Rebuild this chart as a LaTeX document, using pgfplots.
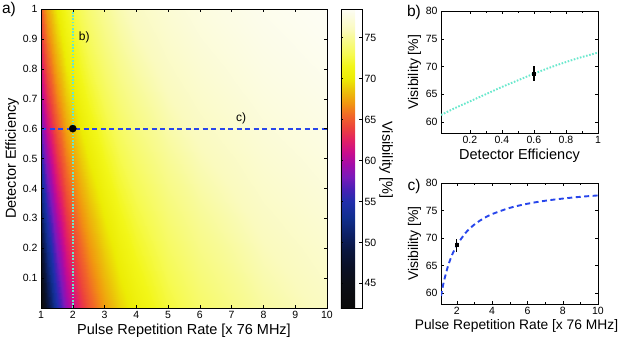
\documentclass[border=0pt]{standalone}
\usepackage{fontspec}
\setmainfont{Liberation Sans}
\usepackage{pgfplots}
\usepackage{pgfplotstable}
\pgfplotsset{compat=1.18}

\pgfplotstableread{
r e v
1 0 42.0
1.1 0 45.45
1.2 0 48.33
1.3 0 50.77
1.4 0 52.86
1.5 0 54.67
1.65 0 56.97
1.8 0 58.89
2 0 61.0
2.25 0 63.11
2.5 0 64.8
3 0 67.33
3.5 0 69.14
4 0 70.5
5 0 72.4
6 0 73.67
8 0 75.25
10 0 76.2
1 0.1 44.8
1.1 0.1 48.0
1.2 0.1 50.67
1.3 0.1 52.92
1.4 0.1 54.86
1.5 0.1 56.53
1.65 0.1 58.67
1.8 0.1 60.44
2 0.1 62.4
2.25 0.1 64.36
2.5 0.1 65.92
3 0.1 68.27
3.5 0.1 69.94
4 0.1 71.2
5 0.1 72.96
6 0.1 74.13
8 0.1 75.6
10 0.1 76.48
1 0.2 47.4
1.1 0.2 50.36
1.2 0.2 52.83
1.3 0.2 54.92
1.4 0.2 56.71
1.5 0.2 58.27
1.65 0.2 60.24
1.8 0.2 61.89
2 0.2 63.7
2.25 0.2 65.51
2.5 0.2 66.96
3 0.2 69.13
3.5 0.2 70.69
4 0.2 71.85
5 0.2 73.48
6 0.2 74.57
8 0.2 75.92
10 0.2 76.74
1 0.3 50.0
1.1 0.3 52.73
1.2 0.3 55.0
1.3 0.3 56.92
1.4 0.3 58.57
1.5 0.3 60.0
1.65 0.3 61.82
1.8 0.3 63.33
2 0.3 65.0
2.25 0.3 66.67
2.5 0.3 68.0
3 0.3 70.0
3.5 0.3 71.43
4 0.3 72.5
5 0.3 74.0
6 0.3 75.0
8 0.3 76.25
10 0.3 77.0
1 0.4 52.6
1.1 0.4 55.09
1.2 0.4 57.17
1.3 0.4 58.92
1.4 0.4 60.43
1.5 0.4 61.73
1.65 0.4 63.39
1.8 0.4 64.78
2 0.4 66.3
2.25 0.4 67.82
2.5 0.4 69.04
3 0.4 70.87
3.5 0.4 72.17
4 0.4 73.15
5 0.4 74.52
6 0.4 75.43
8 0.4 76.57
10 0.4 77.26
1 0.5 55.0
1.1 0.5 57.27
1.2 0.5 59.17
1.3 0.5 60.77
1.4 0.5 62.14
1.5 0.5 63.33
1.65 0.5 64.85
1.8 0.5 66.11
2 0.5 67.5
2.25 0.5 68.89
2.5 0.5 70.0
3 0.5 71.67
3.5 0.5 72.86
4 0.5 73.75
5 0.5 75.0
6 0.5 75.83
8 0.5 76.87
10 0.5 77.5
1 0.6 57.4
1.1 0.6 59.45
1.2 0.6 61.17
1.3 0.6 62.62
1.4 0.6 63.86
1.5 0.6 64.93
1.65 0.6 66.3
1.8 0.6 67.44
2 0.6 68.7
2.25 0.6 69.96
2.5 0.6 70.96
3 0.6 72.47
3.5 0.6 73.54
4 0.6 74.35
5 0.6 75.48
6 0.6 76.23
8 0.6 77.17
10 0.6 77.74
1 0.7 59.6
1.1 0.7 61.45
1.2 0.7 63.0
1.3 0.7 64.31
1.4 0.7 65.43
1.5 0.7 66.4
1.65 0.7 67.64
1.8 0.7 68.67
2 0.7 69.8
2.25 0.7 70.93
2.5 0.7 71.84
3 0.7 73.2
3.5 0.7 74.17
4 0.7 74.9
5 0.7 75.92
6 0.7 76.6
8 0.7 77.45
10 0.7 77.96
1 0.8 61.6
1.1 0.8 63.27
1.2 0.8 64.67
1.3 0.8 65.85
1.4 0.8 66.86
1.5 0.8 67.73
1.65 0.8 68.85
1.8 0.8 69.78
2 0.8 70.8
2.25 0.8 71.82
2.5 0.8 72.64
3 0.8 73.87
3.5 0.8 74.74
4 0.8 75.4
5 0.8 76.32
6 0.8 76.93
8 0.8 77.7
10 0.8 78.16
1 0.9 63.4
1.1 0.9 64.91
1.2 0.9 66.17
1.3 0.9 67.23
1.4 0.9 68.14
1.5 0.9 68.93
1.65 0.9 69.94
1.8 0.9 70.78
2 0.9 71.7
2.25 0.9 72.62
2.5 0.9 73.36
3 0.9 74.47
3.5 0.9 75.26
4 0.9 75.85
5 0.9 76.68
6 0.9 77.23
8 0.9 77.92
10 0.9 78.34
1 1 65.0
1.1 1 66.36
1.2 1 67.5
1.3 1 68.46
1.4 1 69.29
1.5 1 70.0
1.65 1 70.91
1.8 1 71.67
2 1 72.5
2.25 1 73.33
2.5 1 74.0
3 1 75.0
3.5 1 75.71
4 1 76.25
5 1 77.0
6 1 77.5
8 1 78.12
10 1 78.5
}\vismap

\definecolor{aqua}{RGB}{105,232,205}
\definecolor{dblue}{RGB}{40,70,235}

\pgfplotsset{
  colormap={vis}{
    rgb255(0pt)=(10,10,10);
    rgb255(3pt)=(12,14,22);
    rgb255(5pt)=(10,16,38);
    rgb255(7pt)=(10,22,62);
    rgb255(9pt)=(12,32,102);
    rgb255(11pt)=(16,46,142);
    rgb255(13pt)=(32,46,172);
    rgb255(14.5pt)=(72,32,182);
    rgb255(16pt)=(122,25,186);
    rgb255(17.5pt)=(162,12,170);
    rgb255(19pt)=(202,12,140);
    rgb255(20.5pt)=(226,32,100);
    rgb255(22pt)=(236,66,60);
    rgb255(23.5pt)=(241,102,40);
    rgb255(25pt)=(241,150,16);
    rgb255(26.5pt)=(236,192,10);
    rgb255(28pt)=(236,236,4);
    rgb255(29.5pt)=(242,246,24);
    rgb255(31pt)=(246,250,82);
    rgb255(33pt)=(248,250,150);
    rgb255(34pt)=(250,250,190);
    rgb255(36.5pt)=(253,253,245)
  },
  every axis/.append style={
    /pgf/number format/assume math mode=true,
    tick label style={font=\fontsize{10.5}{12}\selectfont},
    label style={font=\fontsize{14.5}{16}\selectfont},
    tick style={black, thin},
    major tick length=3pt,
    minor tick length=2pt,
    scale only axis,
  },
}

\begin{document}
\begin{tikzpicture}
\useasboundingbox (0pt,0pt) rectangle (623pt,346pt);

% ---- main heatmap ----
\begin{axis}[
  at={(41pt,38pt)}, anchor=south west,
  width=286pt, height=299pt,
  xmin=1, xmax=10, ymin=0, ymax=1,
  xtick={1,2,...,10},
  ytick={0.1,0.2,0.3,0.4,0.5,0.6,0.7,0.8,0.9,1},
  yticklabels={0.1,0.2,0.3,0.4,0.5,0.6,0.7,0.8,0.9,1},
  xlabel={Pulse Repetition Rate [x 76 MHz]},
  ylabel={Detector Efficiency},
  xlabel style={yshift=2pt},
  ylabel style={yshift=-3pt},
  colormap name=vis,
  point meta min=42, point meta max=78.5,
  axis on top,
  colorbar,
  colorbar shift/.style={xshift=14pt},
  colorbar style={
    at={(parent axis.north east)}, anchor=north west,
    width=21pt, height=299pt, scale only axis,
    ytick={45,50,...,75},
    yticklabel style={font=\fontsize{10.5}{12}\selectfont, xshift=-1pt},
    /pgf/number format/assume math mode=true,
    major tick length=2.5pt,
  },
]
\addplot[surf, shader=interp, mesh/cols=18, mesh/rows=11, point meta=explicit]
  table[x=r, y=e, meta=v] {\vismap};
\addplot[aqua, line width=1.9pt, dash pattern=on 1.6pt off 1.6pt] coordinates {(2,0) (2,1)};
\addplot[dblue, line width=1.9pt, dash pattern=on 5pt off 3.5pt] coordinates {(1,0.6) (10,0.6)};
\addplot[only marks, mark=*, mark size=3.6pt, black] coordinates {(2,0.6)};
\node[anchor=west, font=\fontsize{12}{14}\selectfont] at (axis cs:2.08,0.905) {b)};
\node[font=\fontsize{12}{14}\selectfont] at (axis cs:7.3,0.635) {c)};
\end{axis}

\node[rotate=-90, font=\fontsize{14.5}{16}\selectfont] at (386pt,186pt) {Visibility [\%]};

% ---- panel b ----
\begin{axis}[
  at={(441pt,213pt)}, anchor=south west,
  width=157pt, height=122pt,
  xmin=0.02, xmax=1, ymin=58, ymax=80,
  xtick={0.2,0.4,0.6,0.8,1},
  xticklabels={0.2,0.4,0.6,0.8,1},
  ytick={60,65,70,75,80},
  minor x tick num=1,
  xlabel={Detector Efficiency},
  ylabel={Visibility [\%]},
  xlabel style={yshift=2pt},
  ylabel style={yshift=-2pt, font=\fontsize{14}{16}\selectfont},
]
\addplot[aqua, line width=1.9pt, dash pattern=on 1.6pt off 1.6pt, smooth] coordinates {
(0.02,61.25) (0.1,62.4) (0.2,63.7) (0.3,65.0) (0.4,66.3) (0.5,67.5) (0.6,68.7) (0.7,69.8) (0.8,70.8) (0.9,71.7) (1,72.5)};
\addplot[black, mark=square*, mark size=1.6pt, only marks, line width=1pt,
  error bars/.cd, y dir=both, y explicit, error bar style={line width=1.2pt}, error mark=none]
  coordinates {(0.6,68.7) +- (0,1.3)};
\end{axis}
\node[font=\fontsize{15.5}{17}\selectfont] at (414pt,334pt) {b)};

% ---- panel c ----
\begin{axis}[
  at={(441pt,42pt)}, anchor=south west,
  width=157pt, height=121pt,
  xmin=1.1, xmax=10, ymin=58, ymax=80,
  xtick={2,4,6,8,10},
  ytick={60,65,70,75,80},
  minor x tick num=1,
  xlabel={Pulse Repetition Rate [x 76 MHz]},
  ylabel={Visibility [\%]},
  xlabel style={yshift=2pt, xshift=-3pt, font=\fontsize{13.8}{16}\selectfont},
  ylabel style={yshift=-2pt, font=\fontsize{14}{16}\selectfont},
]
\addplot[dblue, line width=1.9pt, dash pattern=on 5pt off 3.5pt, smooth] coordinates {
(1.1,59.45) (1.25,61.92) (1.5,64.93) (1.75,67.09) (2,68.7) (2.5,70.96) (3,72.47) (3.5,73.54) (4,74.35) (5,75.48) (6,76.23) (7,76.77) (8,77.17) (9,77.49) (10,77.74)};
\addplot[black, mark=square*, mark size=1.6pt, only marks, line width=1pt,
  error bars/.cd, y dir=both, y explicit, error bar style={line width=1.2pt}, error mark=none]
  coordinates {(2,68.7) +- (0,1.2)};
\end{axis}
\node[font=\fontsize{15.5}{17}\selectfont] at (414pt,160pt) {c)};

\node[font=\fontsize{15.5}{17}\selectfont] at (9pt,337pt) {a)};
\end{tikzpicture}
\end{document}
